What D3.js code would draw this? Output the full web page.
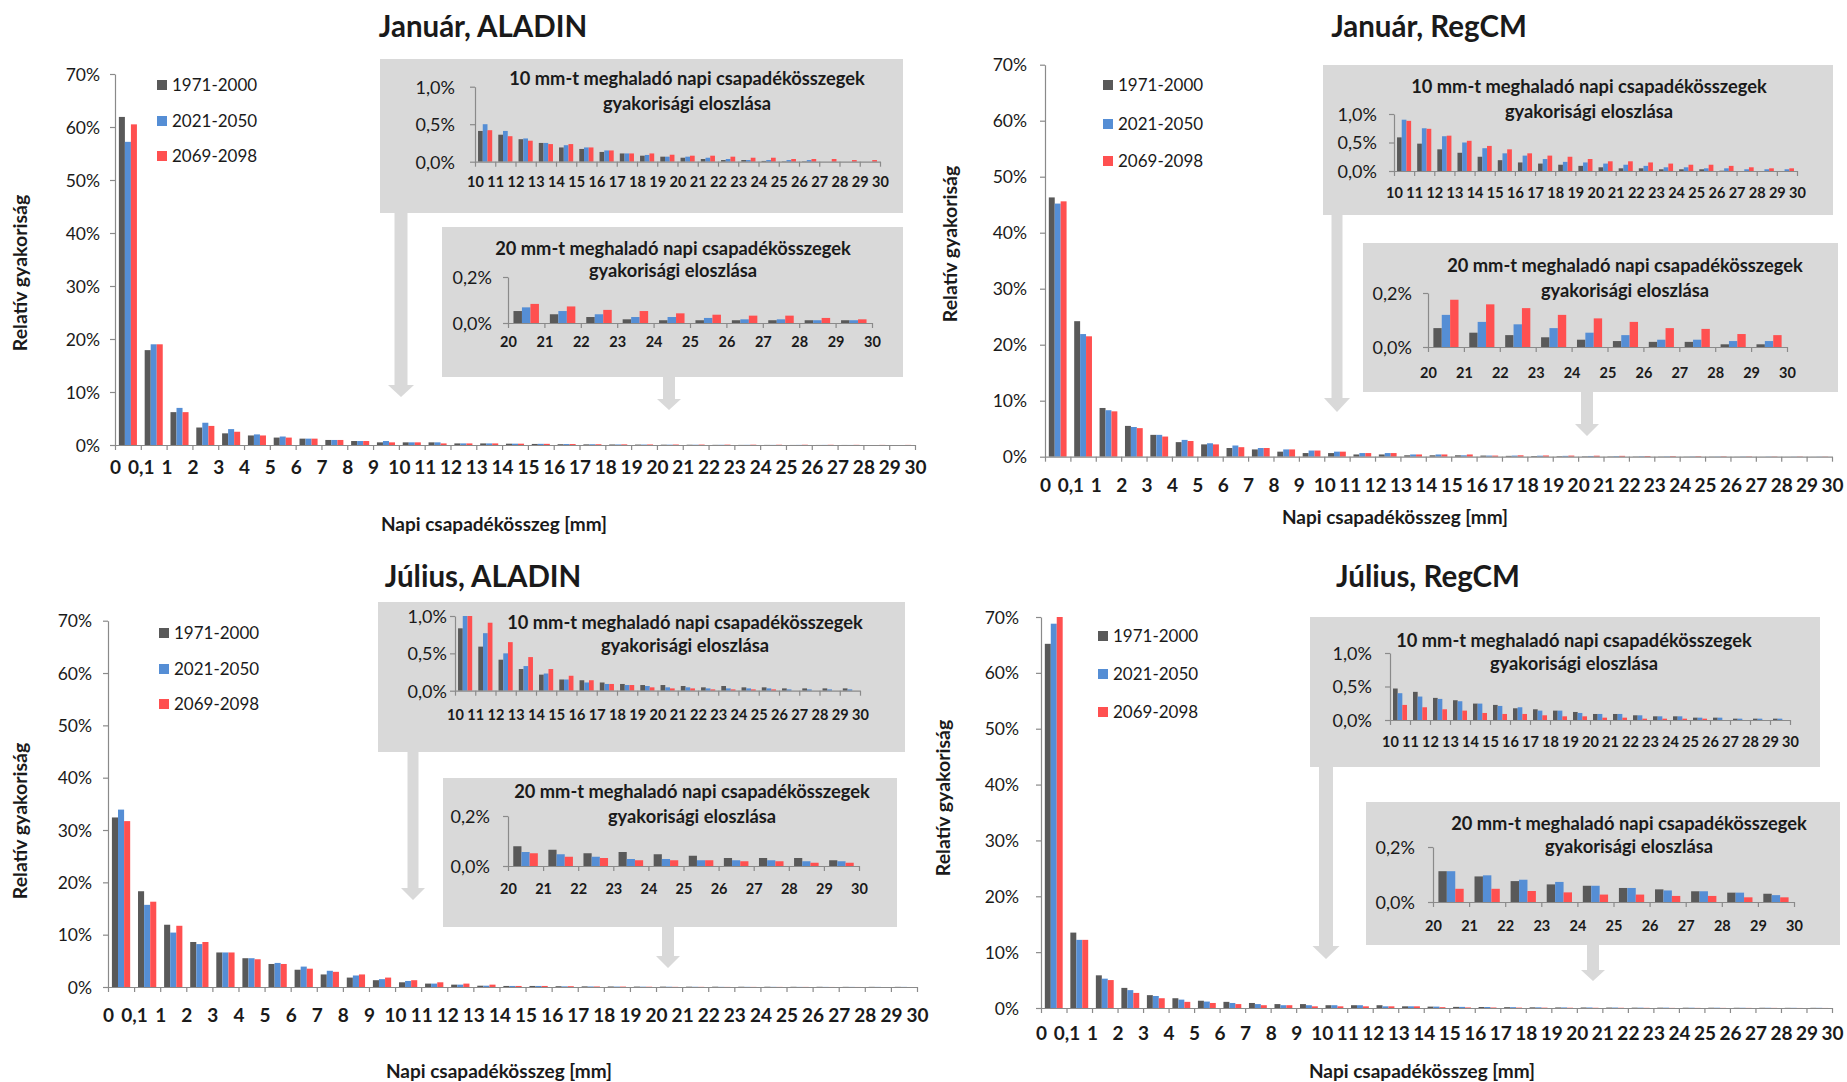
<!DOCTYPE html>
<html>
<head>
<meta charset="utf-8">
<script src="https://cdn.jsdelivr.net/npm/d3@7"></script>
<style>
  html, body { margin: 0; background: #fff; }
  svg { display: block; }
  text { font-family: Lato, "Open Sans", "Liberation Sans", sans-serif; fill: #1a1a1a; }
</style>
</head>
<body>
<svg id="chart" width="1847" height="1082"></svg>
<script>
// ---- data -------------------------------------------------------------
const periods = ["1971-2000", "2021-2050", "2069-2098"];
const periodColors = ["#595959", "#558ed5", "#ff5050"];

// bin edges (labels sit on the edges, bars between them)
const mainEdges = ["0", "0,1", "1", "2", "3", "4", "5", "6", "7", "8", "9", "10", "11", "12", "13", "14", "15",
  "16", "17", "18", "19", "20", "21", "22", "23", "24", "25", "26", "27", "28", "29", "30"];
const edgesOver10 = ["10", "11", "12", "13", "14", "15", "16", "17", "18", "19", "20", "21", "22", "23", "24",
  "25", "26", "27", "28", "29", "30"];
const edgesOver20 = ["20", "21", "22", "23", "24", "25", "26", "27", "28", "29", "30"];

const mainPctTicks = [0, 10, 20, 30, 40, 50, 60, 70];
const over10Ticks = [0, 0.5, 1.0];
const over20Ticks = [0, 0.2];

// relative frequency (%) per bin, rows follow `periods`
const janAladinAll = [
  [61.9, 17.9, 6.2, 3.3, 2.2, 1.8, 1.4, 1.2, 0.95, 0.75, 0.5, 0.5, 0.5, 0.3, 0.3, 0.25, 0.2, 0.15, 0.12, 0.1, 0.08, 0.06, 0.05, 0.03, 0.02, 0.02, 0.01, 0.01, 0.01, 0, 0],
  [57.2, 19.0, 7.0, 4.2, 3.0, 2.0, 1.6, 1.2, 0.95, 0.75, 0.75, 0.5, 0.5, 0.3, 0.3, 0.25, 0.22, 0.18, 0.14, 0.1, 0.08, 0.06, 0.05, 0.04, 0.03, 0.02, 0.02, 0.02, 0.01, 0, 0],
  [60.5, 19.0, 6.2, 3.6, 2.5, 1.8, 1.4, 1.2, 0.95, 0.75, 0.5, 0.5, 0.3, 0.3, 0.3, 0.25, 0.22, 0.18, 0.14, 0.12, 0.1, 0.09, 0.08, 0.07, 0.06, 0.05, 0.05, 0.04, 0.03, 0.02, 0.02]
];
const janAladinOver10 = [
  [0.41, 0.36, 0.30, 0.25, 0.19, 0.17, 0.13, 0.11, 0.08, 0.067, 0.053, 0.036, 0.022, 0.022, 0.01, 0.005, 0.005, 0, 0, 0],
  [0.50, 0.41, 0.31, 0.25, 0.22, 0.19, 0.15, 0.11, 0.09, 0.067, 0.067, 0.053, 0.036, 0.022, 0.022, 0.022, 0.022, 0, 0, 0],
  [0.42, 0.34, 0.28, 0.235, 0.235, 0.19, 0.15, 0.11, 0.11, 0.093, 0.08, 0.08, 0.067, 0.053, 0.053, 0.036, 0.036, 0.036, 0.022, 0.022]
];
const janAladinOver20 = [
  [0.052, 0.038, 0.026, 0.016, 0.012, 0.012, 0.012, 0.012, 0.012, 0.012],
  [0.068, 0.052, 0.038, 0.026, 0.026, 0.022, 0.016, 0.016, 0.012, 0.012],
  [0.083, 0.072, 0.057, 0.052, 0.042, 0.036, 0.032, 0.032, 0.022, 0.016]
];

const janRegcmAll = [
  [46.3, 24.2, 8.7, 5.5, 3.9, 2.6, 2.2, 1.55, 1.3, 0.9, 0.65, 0.65, 0.4, 0.4, 0.25, 0.25, 0.25, 0.2, 0.15, 0.12, 0.1, 0.08, 0.06, 0.05, 0.04, 0.03, 0.03, 0.02, 0.01, 0.01, 0.01],
  [45.2, 21.9, 8.3, 5.3, 3.9, 3.0, 2.4, 2.0, 1.55, 1.3, 1.1, 0.9, 0.65, 0.65, 0.4, 0.4, 0.25, 0.2, 0.2, 0.18, 0.15, 0.13, 0.11, 0.09, 0.07, 0.06, 0.05, 0.05, 0.04, 0.03, 0.03],
  [45.6, 21.5, 8.1, 5.1, 3.6, 2.8, 2.2, 1.7, 1.55, 1.3, 1.1, 0.9, 0.65, 0.65, 0.4, 0.4, 0.4, 0.2, 0.25, 0.22, 0.2, 0.18, 0.15, 0.12, 0.1, 0.09, 0.07, 0.06, 0.05, 0.05, 0.04]
];
const janRegcmOver10 = [
  [0.59, 0.48, 0.38, 0.32, 0.25, 0.19, 0.15, 0.13, 0.11, 0.09, 0.065, 0.047, 0.047, 0.03, 0.03, 0.03, 0.005, 0, 0, 0],
  [0.90, 0.75, 0.61, 0.50, 0.40, 0.31, 0.27, 0.21, 0.16, 0.15, 0.13, 0.11, 0.09, 0.065, 0.065, 0.047, 0.047, 0.03, 0.03, 0.03],
  [0.88, 0.74, 0.62, 0.53, 0.44, 0.38, 0.31, 0.27, 0.25, 0.21, 0.17, 0.17, 0.15, 0.13, 0.11, 0.11, 0.09, 0.065, 0.047, 0.047]
];
const janRegcmOver20 = [
  [0.070, 0.053, 0.044, 0.036, 0.027, 0.022, 0.019, 0.019, 0.010, 0.010],
  [0.119, 0.093, 0.084, 0.070, 0.053, 0.044, 0.027, 0.027, 0.022, 0.022],
  [0.175, 0.158, 0.144, 0.119, 0.106, 0.093, 0.070, 0.067, 0.048, 0.044]
];

const julAladinAll = [
  [32.4, 18.3, 11.9, 8.6, 6.6, 5.5, 4.4, 3.3, 2.4, 1.8, 1.3, 0.9, 0.65, 0.45, 0.25, 0.2, 0.2, 0.15, 0.12, 0.1, 0.08, 0.07, 0.06, 0.06, 0.05, 0.05, 0.04, 0.04, 0.03, 0.03, 0.03],
  [33.9, 15.7, 10.4, 8.2, 6.6, 5.5, 4.6, 3.9, 3.1, 2.2, 1.5, 1.15, 0.65, 0.45, 0.25, 0.2, 0.2, 0.12, 0.1, 0.08, 0.06, 0.05, 0.04, 0.03, 0.03, 0.03, 0.02, 0.02, 0.02, 0.02, 0.02],
  [31.7, 16.3, 11.7, 8.6, 6.6, 5.3, 4.4, 3.5, 2.9, 2.4, 1.8, 1.3, 0.9, 0.65, 0.45, 0.2, 0.2, 0.15, 0.1, 0.08, 0.05, 0.03, 0.03, 0.02, 0.02, 0.02, 0.02, 0.01, 0.01, 0, 0]
];
const julAladinOver10 = [
  [0.835, 0.59, 0.415, 0.29, 0.215, 0.15, 0.14, 0.11, 0.09, 0.076, 0.076, 0.063, 0.045, 0.063, 0.045, 0.045, 0.031, 0.031, 0.031, 0.031],
  [1.0, 0.77, 0.50, 0.33, 0.23, 0.15, 0.11, 0.09, 0.076, 0.063, 0.045, 0.045, 0.031, 0.031, 0.031, 0.031, 0.018, 0.018, 0.018, 0.018],
  [1.0, 0.91, 0.65, 0.45, 0.29, 0.20, 0.14, 0.09, 0.076, 0.045, 0.031, 0.031, 0.018, 0.018, 0.018, 0.018, 0, 0, 0, 0]
];
const julAladinOver20 = [
  [0.079, 0.065, 0.051, 0.056, 0.047, 0.041, 0.032, 0.032, 0.032, 0.023],
  [0.056, 0.047, 0.037, 0.028, 0.028, 0.023, 0.023, 0.023, 0.019, 0.019],
  [0.051, 0.037, 0.032, 0.023, 0.023, 0.023, 0.019, 0.019, 0.013, 0.013]
];

const julRegcmAll = [
  [65.2, 13.5, 5.85, 3.6, 2.3, 1.75, 1.3, 1.1, 0.9, 0.7, 0.7, 0.5, 0.5, 0.5, 0.3, 0.25, 0.2, 0.18, 0.15, 0.12, 0.1, 0.09, 0.08, 0.06, 0.06, 0.05, 0.05, 0.04, 0.04, 0.03, 0.03],
  [68.8, 12.2, 5.25, 3.2, 2.15, 1.5, 1.15, 0.9, 0.7, 0.5, 0.5, 0.5, 0.5, 0.3, 0.3, 0.25, 0.2, 0.18, 0.15, 0.12, 0.1, 0.09, 0.08, 0.06, 0.06, 0.05, 0.05, 0.04, 0.04, 0.03, 0.03],
  [70.0, 12.2, 5.0, 2.7, 1.75, 1.1, 0.9, 0.7, 0.5, 0.5, 0.3, 0.3, 0.3, 0.3, 0.3, 0.15, 0.1, 0.09, 0.07, 0.06, 0.05, 0.04, 0.04, 0.03, 0.02, 0.02, 0.02, 0.02, 0.02, 0.01, 0.01]
];
const julRegcmOver10 = [
  [0.47, 0.42, 0.33, 0.295, 0.245, 0.225, 0.175, 0.16, 0.14, 0.12, 0.09, 0.09, 0.07, 0.055, 0.055, 0.035, 0.035, 0.02, 0.02, 0.02],
  [0.40, 0.35, 0.315, 0.28, 0.245, 0.21, 0.19, 0.14, 0.14, 0.105, 0.09, 0.09, 0.07, 0.055, 0.055, 0.035, 0.035, 0.02, 0.02, 0.02],
  [0.225, 0.19, 0.16, 0.14, 0.105, 0.09, 0.09, 0.07, 0.055, 0.055, 0.035, 0.035, 0.02, 0.02, 0.02, 0.02, 0, 0, 0, 0]
];
const julRegcmOver20 = [
  [0.112, 0.093, 0.076, 0.064, 0.059, 0.051, 0.046, 0.039, 0.034, 0.030],
  [0.112, 0.097, 0.081, 0.073, 0.059, 0.051, 0.042, 0.039, 0.034, 0.025],
  [0.048, 0.048, 0.040, 0.035, 0.027, 0.027, 0.022, 0.022, 0.017, 0.017]
];

const insetTitle10 = ["10 mm-t meghaladó napi csapadékösszegek", "gyakorisági eloszlása"];
const insetTitle20 = ["20 mm-t meghaladó napi csapadékösszegek", "gyakorisági eloszlása"];

// ---- layout -----------------------------------------------------------
const panels = [
  {
    title: "Január, ALADIN", titleX: 483, titleY: 37,
    main: { data: janAladinAll, x0: 115, x1: 915, y0: 445, yTop: 74, yLabOff: 15, xLabOff: 29 },
    yTitle: { x: 27, y: 273 }, xTitle: { x: 494, y: 531 },
    legend: { x: 157, ys: [85, 121, 156] },
    inset10: { data: janAladinOver10, box: [380, 59, 903, 213], x0: 475, x1: 880, y0: 161.7, yTop: 86.7,
      yLabOff: 20, xLabOff: 25, tx: 687, ty: [85, 110] },
    inset20: { data: janAladinOver20, box: [442, 227, 903, 377], x0: 508, x1: 872, y0: 323, yTop: 277,
      yLabOff: 16, xLabOff: 24, tx: 673, ty: [255, 277] },
    arrows: [[401, 213, 385, 397, 13, 26], [669, 377, 399, 410, 12, 24]]
  },
  {
    title: "Január, RegCM", titleX: 1429, titleY: 37,
    main: { data: janRegcmAll, x0: 1045, x1: 1832, y0: 456.7, yTop: 64.7, yLabOff: 18, xLabOff: 35 },
    yTitle: { x: 957, y: 244 }, xTitle: { x: 1395, y: 524 },
    legend: { x: 1103, ys: [85, 124, 161] },
    inset10: { data: janRegcmOver10, box: [1323, 65, 1833, 215], x0: 1394, x1: 1797, y0: 171, yTop: 114,
      yLabOff: 17, xLabOff: 27, tx: 1589, ty: [93, 118] },
    inset20: { data: janRegcmOver20, box: [1363, 243, 1838, 392], x0: 1428, x1: 1787, y0: 347, yTop: 293,
      yLabOff: 16, xLabOff: 31, tx: 1625, ty: [272, 297] },
    arrows: [[1337, 215, 398, 412, 11, 26], [1587, 392, 424, 436, 12, 24]]
  },
  {
    title: "Július, ALADIN", titleX: 483, titleY: 587,
    main: { data: julAladinAll, x0: 108, x1: 917, y0: 987, yTop: 620.7, yLabOff: 16, xLabOff: 35 },
    yTitle: { x: 27, y: 821 }, xTitle: { x: 499, y: 1078 },
    legend: { x: 159, ys: [633, 669, 704] },
    inset10: { data: julAladinOver10, box: [378, 602, 905, 752], x0: 455, x1: 860, y0: 690.7, yTop: 616,
      yLabOff: 8, xLabOff: 29, tx: 685, ty: [629, 652] },
    inset20: { data: julAladinOver20, box: [443, 778, 897, 927], x0: 508, x1: 859, y0: 866, yTop: 816,
      yLabOff: 18, xLabOff: 28, tx: 692, ty: [798, 823] },
    arrows: [[413, 752, 888, 900, 11, 24], [668, 927, 956, 968, 12, 24]]
  },
  {
    title: "Július, RegCM", titleX: 1428, titleY: 587,
    main: { data: julRegcmAll, x0: 1041, x1: 1832, y0: 1008, yTop: 617, yLabOff: 22, xLabOff: 32 },
    yTitle: { x: 950, y: 798 }, xTitle: { x: 1422, y: 1078 },
    legend: { x: 1098, ys: [636, 674, 712] },
    inset10: { data: julRegcmOver10, box: [1310, 617, 1820, 767], x0: 1390, x1: 1790, y0: 720, yTop: 653,
      yLabOff: 18, xLabOff: 27, tx: 1574, ty: [647, 670] },
    inset20: { data: julRegcmOver20, box: [1366, 802, 1840, 945], x0: 1433, x1: 1794, y0: 902, yTop: 847,
      yLabOff: 18, xLabOff: 29, tx: 1629, ty: [830, 853] },
    arrows: [[1326, 767, 946, 959, 14, 27], [1593, 945, 970, 981, 12, 24]]
  }
];

const AXIS = "#8a8a8a";
const BOX = "#d9d9d9";
const svg = d3.select("#chart");

const pctMain = d => d + "%";
const pctComma = d => d.toFixed(1).replace(".", ",") + "%";

// grouped bars between labelled bin edges
function barChart(parent, o) {
  const n = o.edges.length - 1;
  const g = parent.append("g");
  const xEdge = d3.scaleLinear().domain([0, n]).range([o.x0, o.x1]);
  const xBin = d3.scaleBand().domain(d3.range(n)).range([o.x0, o.x1])
    .paddingInner(0.3).paddingOuter(0.15);
  const xSer = d3.scaleBand().domain(d3.range(o.data.length)).range([0, xBin.bandwidth()]);
  const y = d3.scaleLinear().domain([0, o.yMax]).range([o.y0, o.yTop]);

  o.data.forEach((vals, s) => {
    g.append("g").attr("fill", periodColors[s])
      .selectAll("rect").data(vals).join("rect")
      .attr("x", (d, i) => xBin(i) + xSer(s))
      .attr("width", xSer.bandwidth())
      .attr("y", d => y(Math.min(d, o.yMax)))
      .attr("height", d => o.y0 - y(Math.min(d, o.yMax)));
  });

  const ya = g.append("g").attr("transform", `translate(${o.x0},0)`)
    .call(d3.axisLeft(y).tickValues(o.yTicks).tickFormat(o.yFmt).tickSize(5).tickSizeOuter(0));
  ya.selectAll("text").attr("x", -o.yLabOff).attr("dy", "0.35em")
    .style("font-size", o.yFont + "px").style("font-family", null).attr("fill", "#262626");

  const xa = g.append("g").attr("transform", `translate(0,${o.y0})`)
    .call(d3.axisBottom(xEdge).tickValues(d3.range(n + 1)).tickFormat(i => o.edges[i]).tickSize(5).tickSizeOuter(0));
  xa.selectAll("text").attr("y", o.xLabOff).attr("dy", 0)
    .style("font-size", o.xFont + "px").style("font-weight", "bold").style("font-family", null).attr("fill", "#1a1a1a");

  g.selectAll(".domain, .tick line").attr("stroke", AXIS).attr("stroke-width", 1.2);
  return g;
}

function arrow(parent, [cx, top, headStart, tip, shaftW, headW]) {
  const p = d3.path();
  p.moveTo(cx - shaftW / 2, top);
  p.lineTo(cx + shaftW / 2, top);
  p.lineTo(cx + shaftW / 2, headStart);
  p.lineTo(cx + headW / 2, headStart);
  p.lineTo(cx, tip);
  p.lineTo(cx - headW / 2, headStart);
  p.lineTo(cx - shaftW / 2, headStart);
  p.closePath();
  parent.append("path").attr("d", p.toString()).attr("fill", BOX);
}

function inset(parent, o, edges, ticks, yMax, titleLines) {
  const [bx0, by0, bx1, by1] = o.box;
  parent.append("rect").attr("x", bx0).attr("y", by0).attr("width", bx1 - bx0).attr("height", by1 - by0)
    .attr("fill", BOX);
  const t = parent.append("text").attr("text-anchor", "middle")
    .style("font-size", "18.3px").style("font-weight", "bold");
  titleLines.forEach((line, i) => t.append("tspan").attr("x", o.tx).attr("y", o.ty[i]).text(line));
  barChart(parent, {
    data: o.data, edges, x0: o.x0, x1: o.x1, y0: o.y0, yTop: o.yTop, yMax,
    yTicks: ticks, yFmt: pctComma, yLabOff: o.yLabOff, xLabOff: o.xLabOff, yFont: 18, xFont: 14.5
  });
}

panels.forEach(P => {
  const g = svg.append("g");

  g.append("text").attr("x", P.titleX).attr("y", P.titleY).attr("text-anchor", "middle")
    .style("font-size", "29.5px").style("font-weight", "bold").text(P.title);

  barChart(g, {
    data: P.main.data, edges: mainEdges, x0: P.main.x0, x1: P.main.x1, y0: P.main.y0, yTop: P.main.yTop,
    yMax: 70, yTicks: mainPctTicks, yFmt: pctMain, yLabOff: P.main.yLabOff, xLabOff: P.main.xLabOff,
    yFont: 17.5, xFont: 19
  });

  g.append("text").attr("transform", `translate(${P.yTitle.x},${P.yTitle.y}) rotate(-90)`)
    .attr("text-anchor", "middle").style("font-size", "19.5px").style("font-weight", "bold")
    .text("Relatív gyakoriság");
  g.append("text").attr("x", P.xTitle.x).attr("y", P.xTitle.y).attr("text-anchor", "middle")
    .style("font-size", "19px").style("font-weight", "bold").text("Napi csapadékösszeg [mm]");

  const lg = g.append("g");
  periods.forEach((name, i) => {
    lg.append("rect").attr("x", P.legend.x).attr("y", P.legend.ys[i] - 5).attr("width", 10).attr("height", 10)
      .attr("fill", periodColors[i]);
    lg.append("text").attr("x", P.legend.x + 15).attr("y", P.legend.ys[i]).attr("dy", "0.35em")
      .style("font-size", "17px").attr("fill", "#262626").text(name);
  });

  inset(g, P.inset10, edgesOver10, over10Ticks, 1.0, insetTitle10);
  inset(g, P.inset20, edgesOver20, over20Ticks, 0.2, insetTitle20);
  P.arrows.forEach(a => arrow(g, a));
});
</script>
</body>
</html>
